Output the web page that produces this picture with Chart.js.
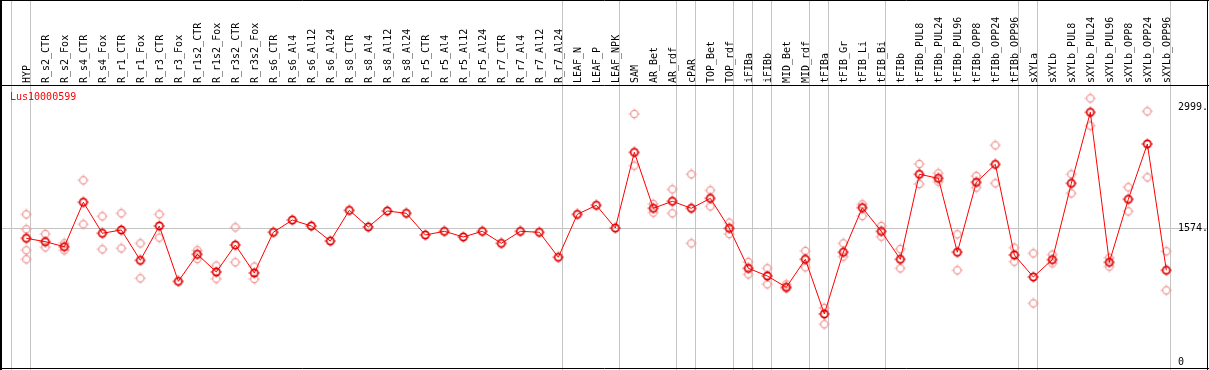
<!DOCTYPE html>
<html>
<head>
<meta charset="utf-8">
<script src="https://cdn.jsdelivr.net/npm/chart.js@4.4.1/dist/chart.umd.min.js"></script>
<style>
  html, body { margin: 0; padding: 0; background: #fff; }
  canvas { display: block; }
</style>
</head>
<body>
<canvas id="geneChart" width="1209" height="370"></canvas>
<script>
const geneName = 'Lus10000599';

const categories = [
    'HYP', 'R_s2_CTR', 'R_s2_Fox', 'R_s4_CTR', 'R_s4_Fox', 'R_r1_CTR', 'R_r1_Fox',
    'R_r3_CTR', 'R_r3_Fox', 'R_r1s2_CTR', 'R_r1s2_Fox', 'R_r3s2_CTR', 'R_r3s2_Fox',
    'R_s6_CTR', 'R_s6_Al4', 'R_s6_Al12', 'R_s6_Al24', 'R_s8_CTR', 'R_s8_Al4', 'R_s8_Al12',
    'R_s8_Al24', 'R_r5_CTR', 'R_r5_Al4', 'R_r5_Al12', 'R_r5_Al24', 'R_r7_CTR', 'R_r7_Al4',
    'R_r7_Al12', 'R_r7_Al24', 'LEAF_N', 'LEAF_P', 'LEAF_NPK', 'SAM', 'AR_Bet', 'AR_rdf',
    'cPAR', 'TOP_Bet', 'TOP_rdf', 'iFIBa', 'iFIBb', 'MID_Bet', 'MID_rdf', 'tFIBa',
    'tFIB_Gr', 'tFIB_Li', 'tFIB_Bi', 'tFIBb', 'tFIBb_PUL8', 'tFIBb_PUL24', 'tFIBb_PUL96',
    'tFIBb_OPP8', 'tFIBb_OPP24', 'tFIBb_OPP96', 'sXYLa', 'sXYLb', 'sXYLb_PUL8',
    'sXYLb_PUL24', 'sXYLb_PUL96', 'sXYLb_OPP8', 'sXYLb_OPP24', 'sXYLb_OPP96'
];

// mean expression per sample
const meanValues = [
    1451, 1411, 1352, 1875, 1510, 1549, 1192, 1596, 945, 1263, 1055, 1372, 1043,
    1522, 1666, 1596, 1419, 1780, 1584, 1772, 1745, 1490, 1533, 1467, 1533, 1392, 1533,
    1522, 1228, 1733, 1839, 1572, 2462, 1804, 1886, 1804, 1921, 1569, 1098, 1008, 875,
    1204, 561, 1287, 1811, 1533, 1204, 2204, 2157, 1287, 2110, 2321, 1255, 996, 1200,
    2098, 2933, 1169, 1910, 2560, 1075
];

// replicates (null where none are visible)
const repA = [
    1733, 1502, 1392, 2133, 1710, 1745, 1392, 1733, null, 1310, 1129, 1580, 1118,
    null, null, null, null, null, null, null, null, null, null, null, null, null, null,
    null, null, null, null, null, 2913, 1855, 2027, 2204, 2015, 1635, 1173, 1098, 910,
    1302, 632, 1392, 1851, 1596, 1325, 2325, 2215, 1498, 2184, 2545, 1341, 1274, 1259,
    2204, 3097, 1223, 2051, 2944, 1298
];
const repB = [
    1557, 1345, 1310, 1616, 1322, 1333, 980, 1459, null, 1208, 976, 1169, 973,
    null, null, null, null, null, null, null, null, null, null, null, null, null, null,
    null, null, null, null, null, 2305, 1753, 1745, 1392, 1827, 1502, 1027, 910, 863,
    1110, 440, 1235, 1714, 1470, 1098, 2090, 2117, 1075, 2047, 2098, 1176, 686, 1157,
    1980, 2776, 1118, 1768, 2168, 839
];
const repC = [1310];
const repD = [1204];

// sample groups end after these indices (vertical separators)
const groupEnds = [-1, 0, 28, 31, 34, 35, 37, 38, 39, 41, 42, 45, 52, 53, 60];

const yTickValues = [0, 1574, 2999];
const yTickLabels = ['0', '1574.', '2999.'];
const refLineValue = 1574;

function toPoints(values) {
    return values.map((v, i) => ({ x: i, y: v })).filter(p => p.y !== null);
}

function makeMarker(color, lw) {
    const c = document.createElement('canvas');
    c.width = 12;
    c.height = 12;
    const g = c.getContext('2d');
    g.strokeStyle = color;
    g.fillStyle = color;
    g.lineWidth = lw;
    g.beginPath();
    g.arc(6, 6, 3.6, 0, Math.PI * 2);
    g.stroke();
    // little ticks touching the ring
    g.fillRect(5.5, 0.5, 1, 1.5);
    g.fillRect(5.5, 10, 1, 1.5);
    g.fillRect(0.5, 5.5, 1.5, 1);
    g.fillRect(10, 5.5, 1.5, 1);
    return c;
}

const meanMarker = makeMarker('#e00000', 1.7);
const repMarker = makeMarker('#f09898', 1.2);

const decorPlugin = {
    id: 'decor',
    beforeDraw(chart) {
        const ctx = chart.ctx;
        ctx.save();
        ctx.fillStyle = '#ffffff';
        ctx.fillRect(0, 0, chart.width, chart.height);
        ctx.restore();
    },
    beforeDatasetsDraw(chart) {
        const ctx = chart.ctx;
        const xs = chart.scales.x;
        const ys = chart.scales.y;
        const area = chart.chartArea;
        ctx.save();
        ctx.strokeStyle = '#c4c4c4';
        ctx.lineWidth = 1;

        // horizontal reference line
        const yRef = Math.round(ys.getPixelForValue(refLineValue)) + 0.5;
        ctx.beginPath();
        ctx.moveTo(area.left, yRef);
        ctx.lineTo(area.right, yRef);
        ctx.stroke();

        // group separators, full height
        groupEnds.forEach(i => {
            const x = Math.round(xs.getPixelForValue(i) + 4) + 0.5;
            ctx.beginPath();
            ctx.moveTo(x, 0);
            ctx.lineTo(x, chart.height);
            ctx.stroke();
        });

        // header labels
        ctx.fillStyle = '#000000';
        ctx.font = '10px "DejaVu Sans Mono", monospace';
        ctx.textAlign = 'left';
        ctx.textBaseline = 'alphabetic';
        categories.forEach((name, i) => {
            const x = xs.getPixelForValue(i) + 3.5;
            ctx.save();
            ctx.translate(x, 83);
            ctx.rotate(-Math.PI / 2);
            ctx.fillText(name, 0, 0);
            ctx.restore();
        });

        // frame
        ctx.strokeStyle = '#000000';
        ctx.beginPath();
        ctx.moveTo(0, 0.5); ctx.lineTo(chart.width, 0.5);
        ctx.moveTo(0, 85.5); ctx.lineTo(chart.width, 85.5);
        ctx.moveTo(0, 368.5); ctx.lineTo(chart.width, 368.5);
        ctx.moveTo(1207.5, 0); ctx.lineTo(1207.5, chart.height);
        ctx.stroke();
        ctx.lineWidth = 2;
        ctx.beginPath();
        ctx.moveTo(1, 0); ctx.lineTo(1, chart.height);
        ctx.stroke();

        // gene name
        ctx.fillStyle = '#ff0000';
        ctx.textBaseline = 'middle';
        ctx.fillText(geneName, 10, 97);

        // value labels on the right
        ctx.fillStyle = '#000000';
        yTickValues.forEach((v, k) => {
            ctx.fillText(yTickLabels[k], 1178, ys.getPixelForValue(v) + 0.5);
        });
        ctx.restore();
    }
};

const repDatasets = [repA, repB, repC, repD].map(arr => ({
    type: 'scatter',
    data: toPoints(arr),
    showLine: false,
    pointStyle: repMarker,
    pointRadius: 4,
    pointHoverRadius: 4
}));

new Chart(document.getElementById('geneChart'), {
    type: 'line',
    data: {
        datasets: [
            {
                label: geneName,
                data: toPoints(meanValues),
                borderColor: '#ff0000',
                borderWidth: 1,
                pointStyle: meanMarker,
                pointRadius: 4,
                pointHoverRadius: 4,
                tension: 0,
                fill: false
            },
            ...repDatasets
        ]
    },
    options: {
        responsive: false,
        animation: false,
        devicePixelRatio: 1,
        layout: { autoPadding: false, padding: { top: 86, left: 2, right: 2, bottom: 1 } },
        plugins: { legend: { display: false }, tooltip: { enabled: false } },
        scales: {
            x: { type: 'linear', display: false, min: -1.28, max: 62.14 },
            y: { type: 'linear', display: false, min: -86, max: 3242 }
        }
    },
    plugins: [decorPlugin]
});
</script>
</body>
</html>
